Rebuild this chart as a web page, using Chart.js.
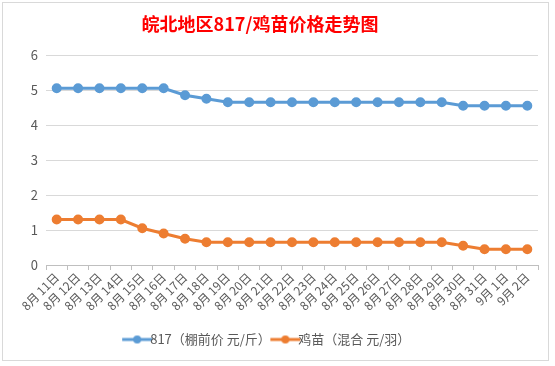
<!DOCTYPE html>
<html>
<head>
<meta charset="utf-8">
<script src="https://cdn.jsdelivr.net/npm/chart.js@4"></script>
<style>
    body { margin: 0; background: #fff; }
    #wrap { position: absolute; left: 2px; top: 2px; width: 545px; height: 357px; border: 1px solid #d9d9d9; }
</style>
</head>
<body>
<div id="wrap"><canvas id="priceChart" width="545" height="357"></canvas></div>
<script>
const days = ['8月 11日', '8月 12日', '8月 13日', '8月 14日', '8月 15日', '8月 16日', '8月 17日', '8月 18日',
    '8月 19日', '8月 20日', '8月 21日', '8月 22日', '8月 23日', '8月 24日', '8月 25日', '8月 26日',
    '8月 27日', '8月 28日', '8月 29日', '8月 30日', '8月 31日', '9月 1日', '9月 2日']
const price817 = [5.05, 5.05, 5.05, 5.05, 5.05, 5.05, 4.85, 4.75, 4.65, 4.65, 4.65, 4.65, 4.65, 4.65, 4.65, 4.65,
    4.65, 4.65, 4.65, 4.55, 4.55, 4.55, 4.55]
const chickPrice = [1.3, 1.3, 1.3, 1.3, 1.05, 0.9, 0.75, 0.65, 0.65, 0.65, 0.65, 0.65, 0.65, 0.65, 0.65, 0.65,
    0.65, 0.65, 0.65, 0.55, 0.45, 0.45, 0.45]
const seriesNames = ['817（棚前价 元/斤）', '鸡苗（混合 元/羽）']
const titleText = '皖北地区817/鸡苗价格走势图'

const fontFamily = "'Noto Sans CJK SC', 'Noto Sans', sans-serif"

// legend marker: short line with a dot, like Excel
function legendMarker(color) {
    const c = document.createElement('canvas')
    c.width = 32
    c.height = 10
    const g = c.getContext('2d')
    g.strokeStyle = color
    g.lineWidth = 3
    g.beginPath()
    g.moveTo(1, 5)
    g.lineTo(31, 5)
    g.stroke()
    g.fillStyle = color
    g.beginPath()
    g.arc(16, 5, 4, 0, Math.PI * 2)
    g.fill()
    return c
}

const titlePlugin = {
    id: 'excelTitle',
    afterDraw(chart) {
        const ctx = chart.ctx
        ctx.save()
        ctx.fillStyle = '#ff0000'
        ctx.font = "bold 18px " + fontFamily
        ctx.textAlign = 'center'
        ctx.textBaseline = 'middle'
        ctx.fillText(titleText, 257, 21)
        ctx.restore()
    }
}

const colors = ['#5b9bd5', '#ed7d31']

new Chart(document.getElementById('priceChart'), {
    type: 'line',
    data: {
        labels: days,
        datasets: [
            {
                label: seriesNames[0],
                data: price817,
                borderColor: colors[0],
                backgroundColor: colors[0],
                borderWidth: 3,
                pointRadius: 3.5,
                pointHoverRadius: 3.5,
                tension: 0,
            },
            {
                label: seriesNames[1],
                data: chickPrice,
                borderColor: colors[1],
                backgroundColor: colors[1],
                borderWidth: 3,
                pointRadius: 3.5,
                pointHoverRadius: 3.5,
                tension: 0,
            },
        ]
    },
    options: {
        responsive: false,
        animation: false,
        layout: {
            padding: { top: 52, left: 0, right: 10, bottom: 4 }
        },
        scales: {
            x: {
                offset: true,
                grid: {
                    offset: true,
                    drawOnChartArea: false,
                    drawTicks: true,
                    tickLength: 5,
                    color: '#bfbfbf',
                },
                border: { color: '#bfbfbf' },
                ticks: {
                    color: '#595959',
                    font: { size: 12, family: fontFamily },
                    maxRotation: 45,
                    minRotation: 45,
                    autoSkip: false,
                    padding: 0,
                },
                afterFit(scale) {
                    scale.height = 60
                },
            },
            y: {
                min: 0,
                max: 6,
                ticks: {
                    stepSize: 1,
                    color: '#595959',
                    font: { size: 13, family: fontFamily },
                    padding: 8,
                },
                grid: {
                    color: '#d9d9d9',
                    drawTicks: false,
                },
                border: { display: false },
                afterFit(scale) {
                    scale.width = 43
                },
            }
        },
        plugins: {
            legend: {
                position: 'bottom',
                labels: {
                    color: '#595959',
                    font: { size: 13, family: fontFamily },
                    usePointStyle: true,
                    padding: 8,
                    generateLabels(chart) {
                        return chart.data.datasets.map((ds, i) => ({
                            text: ds.label,
                            fontColor: '#595959',
                            pointStyle: legendMarker(colors[i]),
                            datasetIndex: i,
                            hidden: false,
                            lineWidth: 0,
                        }))
                    },
                },
            },
            tooltip: { enabled: false },
        }
    },
    plugins: [titlePlugin]
})
</script>
</body>
</html>
